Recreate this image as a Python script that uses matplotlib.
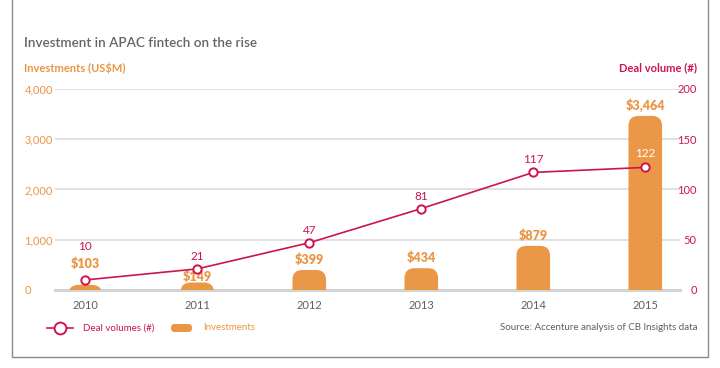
import matplotlib
matplotlib.use("Agg")
import matplotlib.pyplot as plt
from matplotlib.patches import FancyBboxPatch, Rectangle
from matplotlib.lines import Line2D

plt.rcParams["font.family"] = ["Lato", "DejaVu Sans"]

years = ["2010", "2011", "2012", "2013", "2014", "2015"]
investments = [103, 149, 399, 434, 879, 3464]
deal_volumes = [10, 21, 47, 81, 117, 122]
invest_ticks = [0, 1000, 2000, 3000, 4000]
deal_ticks = [0, 50, 100, 150, 200]

ORANGE = "#EA9848"
ORANGE_TXT = "#EC9545"
CRIMSON = "#CC1450"
GRAY = "#5f5f5f"
GRID = "#dcdcdc"

W, H = 720, 368
fig = plt.figure(figsize=(W / 100, H / 100), dpi=100)
fig.patch.set_facecolor("white")


def fx(x):
    return x / W


def fy(y):
    return 1 - y / H


# plot box in pixels: x 55..680, y 89..290
L, R, T, B = 55, 680, 89, 290
ax = fig.add_axes([fx(L), fy(B), (R - L) / W, (B - T) / H])
xs = list(range(len(years)))
xmin, xmax = -0.27, 5.31
ymax = 4000
ax.set_xlim(xmin, xmax)
ax.set_ylim(0, ymax)

for v in invest_ticks[1:]:
    ax.axhline(v, color=GRID, lw=1.2, zorder=0)
ax.axhline(0, color="#d4d4d4", lw=2.2, zorder=0, clip_on=False)

# rounded-top bars
px_x = (xmax - xmin) / (R - L)
px_y = ymax / (B - T)
aspect = px_y / px_x
bw = 0.30
rx = 10 * px_x
for x, v in zip(xs, investments):
    extra = rx * aspect
    p = FancyBboxPatch((x - bw / 2, -extra), bw, v + extra,
                       boxstyle=f"round,pad=0,rounding_size={rx}",
                       mutation_aspect=aspect, fc=ORANGE, ec="none", zorder=2)
    ax.add_patch(p)

bar_lbl_off = [11, 0, 3, 3, 3, 3]
for x, v, off in zip(xs, investments, bar_lbl_off):
    ax.annotate(f"${v:,}", (x, v), xytext=(0, off), textcoords="offset points",
                ha="center", va="bottom", color=ORANGE_TXT, fontsize=9,
                fontweight="heavy", zorder=5, annotation_clip=False)

ax.set_xticks(xs)
ax.set_xticklabels(years, color=GRAY, fontsize=8)
ax.set_yticks(invest_ticks)
ax.set_yticklabels([f"{v:,}" for v in invest_ticks], color=ORANGE_TXT, fontsize=8)
ax.tick_params(axis="x", length=0, pad=7)
ax.tick_params(axis="y", length=0, pad=22)
for lbl in ax.get_yticklabels():
    lbl.set_ha("left")
for s in ax.spines.values():
    s.set_visible(False)

ax2 = ax.twinx()
ax2.set_ylim(0, 200)
ax2.plot(xs, deal_volumes, color=CRIMSON, lw=1.2, marker="o", ms=6,
         mfc="white", mec=CRIMSON, mew=1.4, zorder=4, clip_on=False)
deal_lbl_off = [20, 5, 5, 5, 5, 6]
for i, (x, v, off) in enumerate(zip(xs, deal_volumes, deal_lbl_off)):
    c = "white" if i == len(xs) - 1 else CRIMSON
    ax2.annotate(str(v), (x, v), xytext=(0, off), textcoords="offset points",
                 ha="center", va="bottom", color=c, fontsize=8.5, zorder=5)
ax2.set_yticks(deal_ticks)
ax2.set_yticklabels([str(v) for v in deal_ticks], color=CRIMSON, fontsize=8)
ax2.tick_params(axis="y", length=0, pad=12)
for lbl in ax2.get_yticklabels():
    lbl.set_ha("right")
for s in ax2.spines.values():
    s.set_visible(False)

# titles
fig.text(fx(24), fy(43), "Investment in APAC fintech on the rise", color="#666666",
         fontsize=9.7, fontweight="semibold", va="center", ha="left")
fig.text(fx(24), fy(68), "Investments (US$M)", color=ORANGE_TXT, fontsize=8,
         fontweight="bold", va="center", ha="left")
fig.text(fx(697), fy(68), "Deal volume (#)", color=CRIMSON, fontsize=8,
         fontweight="bold", va="center", ha="right")

# legend
fig.add_artist(Line2D([fx(47), fx(73)], [fy(328), fy(328)], color=CRIMSON, lw=1.2,
                      transform=fig.transFigure))
fig.add_artist(Line2D([fx(60)], [fy(328)], marker="o", ms=8.5, mfc="white", mec=CRIMSON,
                      mew=1.4, transform=fig.transFigure))
fig.text(fx(83), fy(328), "Deal volumes (#)", color=CRIMSON, fontsize=7, va="center")
fig.add_artist(FancyBboxPatch((fx(171), fy(332)), fx(21), 8 / H,
                              boxstyle="round,pad=0,rounding_size=0.005",
                              mutation_aspect=W / H, fc=ORANGE, ec="none",
                              transform=fig.transFigure))
fig.text(fx(203), fy(328), "Investments", color=ORANGE_TXT, fontsize=7, va="center")
fig.text(fx(697), fy(328), "Source: Accenture analysis of CB Insights data", color=GRAY,
         fontsize=7, va="center", ha="right")

# frame
fig.add_artist(Rectangle((fx(12), fy(357)), fx(708) - fx(12), 1.2, fill=False,
                         ec="#8a8a8a", lw=1.0, transform=fig.transFigure))

fig.savefig("out.png", dpi=100)
